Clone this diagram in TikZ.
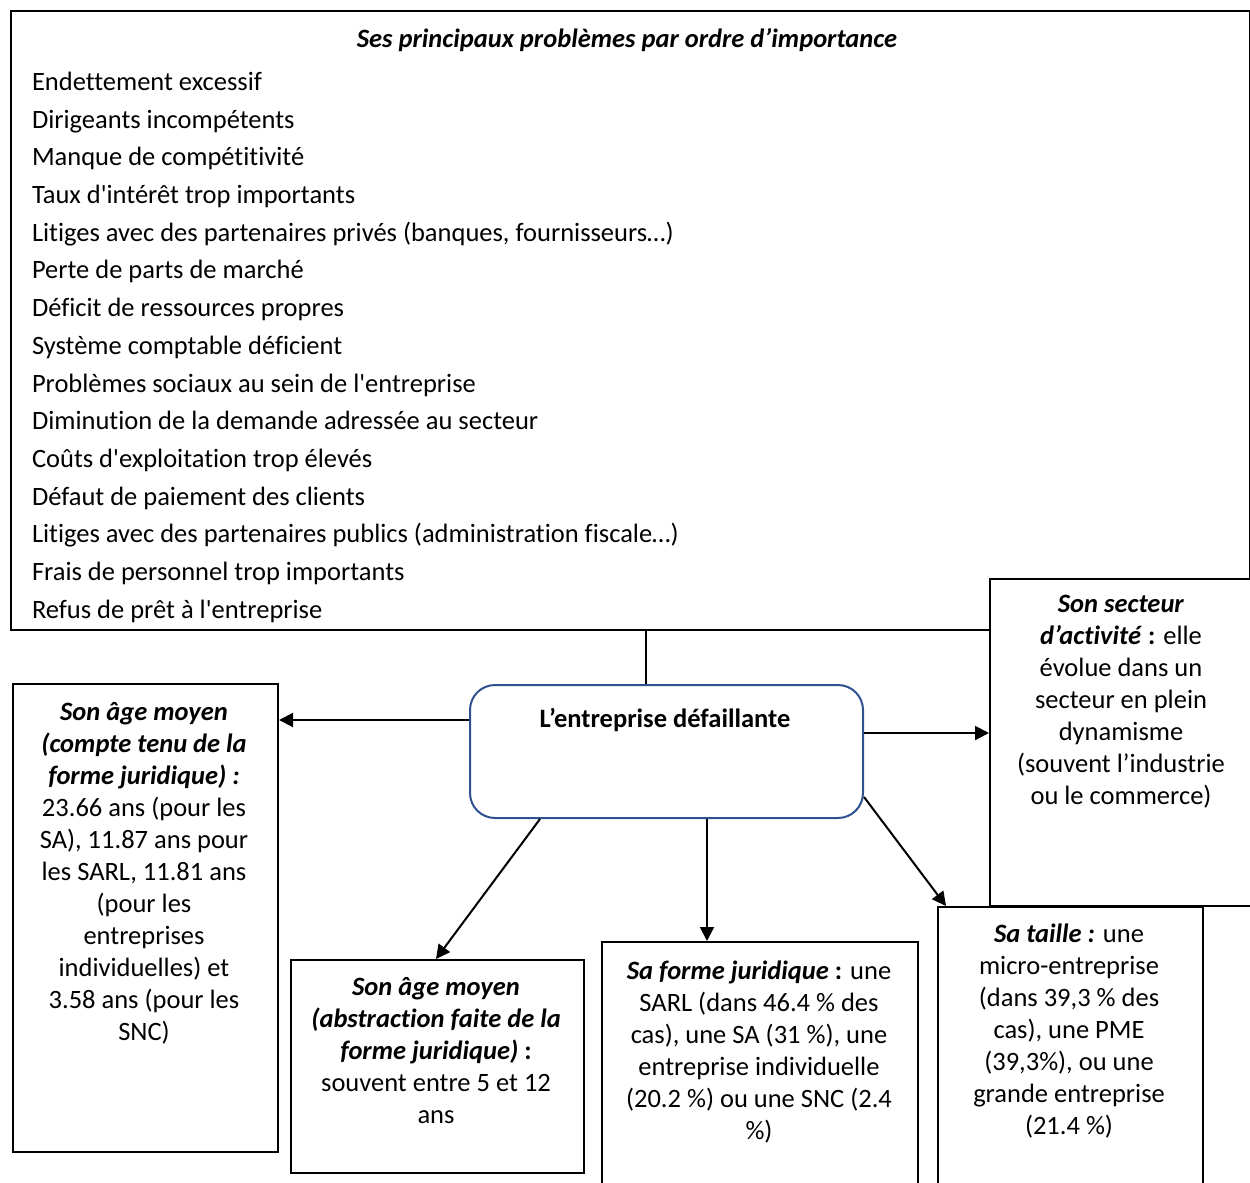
\documentclass[tikz,border=0pt]{standalone}
\usepackage{fontspec}
\setmainfont{Carlito}[Ligatures={TeXOff,NoCommon}]
\usetikzlibrary{positioning}
\usetikzlibrary{arrows.meta}
\definecolor{cadre}{HTML}{2F528F}
\tikzset{
	>={Triangle[length=14pt,width=14pt]},
	every node/.style={font=\fontsize{26.5}{32}\selectfont},
	boite/.style={draw, rectangle, fill=white, anchor=north west, inner sep=0pt},
	texte/.style={align=center, anchor=north, inner sep=0pt},
	liste/.style={align=left, anchor=north west, inner sep=0pt, font=\fontsize{26.5}{37.7}\selectfont},
	centrale/.style={draw=cadre, fill=white, rounded corners=25pt, anchor=north west, inner sep=0pt, font=\fontsize{26.5}{32}\selectfont\bfseries}
}

\begin{document}
\begin{tikzpicture}[x=1pt, y=-1pt, line width=2pt]
	\useasboundingbox (0,0) rectangle (1250,1183);
	\clip (0,0) rectangle (1250,1183);

	% Problemes
	\node[boite, minimum width=1239pt, minimum height=619pt] (problemes) at (10,10) {};
	\node[anchor=base] (titre) at (627,47.5) {\textbf{\textit{Ses principaux problèmes par ordre d’importance}}};
	\node[liste] (causes) at (31,71) {Endettement excessif\\
		Dirigeants incompétents\\
		Manque de compétitivité\\
		Taux d'intérêt trop importants\\
		Litiges avec des partenaires privés (banques, fournisseurs…)\\
		Perte de parts de marché\\
		Déficit de ressources propres\\
		Système comptable déficient\\
		Problèmes sociaux au sein de l'entreprise\\
		Diminution de la demande adressée au secteur\\
		Coûts d'exploitation trop élevés\\
		Défaut de paiement des clients\\
		Litiges avec des partenaires publics (administration fiscale…)\\
		Frais de personnel trop importants\\
		Refus de prêt à l'entreprise};

	% Caracteristiques
	\node[boite, minimum width=264pt, minimum height=327pt] (secteur) at (989,578) {};
	\node[texte] (secteurtxt) at (1121,594) {\textbf{\textit{Son secteur}}\\
		\textbf{\textit{d’activité}} \textbf{:} elle\\
		évolue dans un\\
		secteur en plein\\
		dynamisme\\
		(souvent l’industrie\\
		ou le commerce)};

	\node[boite, minimum width=265pt, minimum height=468pt] (age1) at (12,683) {};
	\node[texte] (age1txt) at (144,701) {\textbf{\textit{Son âge moyen}}\\
		\textbf{\textit{(compte tenu de la}}\\
		\textbf{\textit{forme juridique) :}}\\
		23.66 ans (pour les\\
		SA), 11.87 ans pour\\
		les SARL, 11.81 ans\\
		(pour les\\
		entreprises\\
		individuelles) et\\
		3.58 ans (pour les\\
		SNC)};

	\node[boite, minimum width=293pt, minimum height=213pt] (age2) at (290,959) {};
	\node[texte] (age2txt) at (436,976) {\textbf{\textit{Son âge moyen}}\\
		\textbf{\textit{(abstraction faite de la}}\\
		\textbf{\textit{forme juridique)}} \textbf{:}\\
		souvent entre 5 et 12\\
		ans};

	\node[boite, minimum width=316pt, minimum height=300pt] (forme) at (601,941) {};
	\node[texte] (formetxt) at (759,960) {\textbf{\textit{Sa forme juridique}} \textbf{:} une\\
		SARL (dans 46.4 \% des\\
		cas), une SA (31 \%), une\\
		entreprise individuelle\\
		(20.2 \%) ou une SNC (2.4\\
		\%)};

	\node[boite, minimum width=265pt, minimum height=300pt] (taille) at (937,906) {};
	\node[texte] (tailletxt) at (1069,923) {\textbf{\textit{Sa taille :}} une\\
		micro-entreprise\\
		(dans 39,3 \% des\\
		cas), une PME\\
		(39,3\%), ou une\\
		grande entreprise\\
		(21.4 \%)};

	% Entreprise
	\node[centrale, minimum width=393pt, minimum height=133pt] (centre) at (469,684) {};
	\node[anchor=base] (centretxt) at (665,727.5) {\textbf{L’entreprise défaillante}};

	% Liens
	\draw (centre.north -| 646,0) -- (problemes.south -| 646,0);
	\draw[->] (centre.west |- 0,720) -- (age1.east |- 0,720);
	\draw[->] (centre.east |- 0,733) -- (secteur.west |- 0,733);
	\draw[->] (centre.south -| 540,0) -- (age2.north -| 436,0);
	\draw[->] (centre.south -| 707,0) -- (forme.north -| 707,0);
	\draw[->] (centre.east |- 0,797) -- (taille.north -| 946,0);
\end{tikzpicture}
\end{document}
